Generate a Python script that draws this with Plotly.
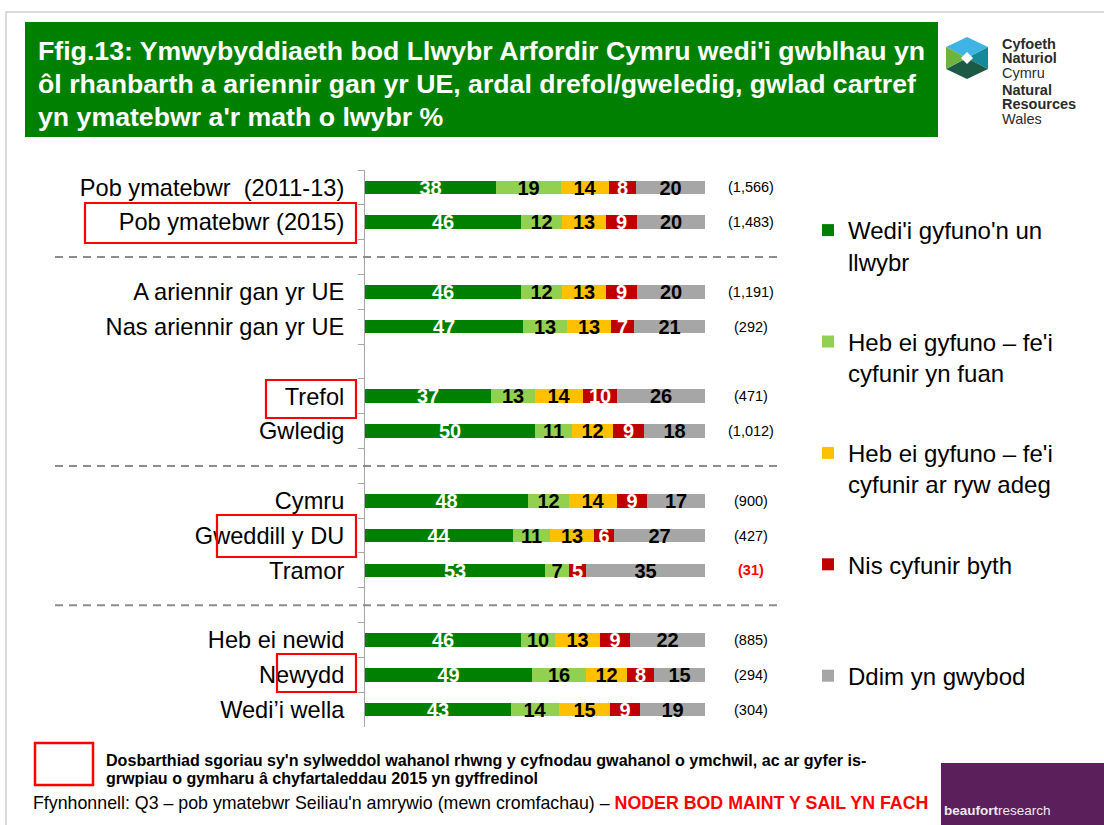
import plotly.graph_objects as go

# ---------------- data ----------------
categories = ["Pob ymatebwr  (2011-13)", "Pob ymatebwr (2015)",
              "A ariennir gan yr UE", "Nas ariennir gan yr UE",
              "Trefol", "Gwledig",
              "Cymru", "Gweddill y DU", "Tramor",
              "Heb ei newid", "Newydd", "Wedi\u2019i wella"]
wedi_gyfuno = [38, 46, 46, 47, 37, 50, 48, 44, 53, 46, 49, 43]
heb_fuan = [19, 12, 12, 13, 13, 11, 12, 11, 7, 10, 16, 14]
heb_adeg = [14, 13, 13, 13, 14, 12, 14, 13, 0, 13, 12, 15]
nis_byth = [8, 9, 9, 7, 10, 9, 9, 6, 5, 9, 8, 9]
ddim_gwybod = [20, 20, 20, 21, 26, 18, 17, 27, 35, 22, 15, 19]
bases = ["(1,566)", "(1,483)", "(1,191)", "(292)", "(471)", "(1,012)",
         "(900)", "(427)", "(31)", "(885)", "(294)", "(304)"]
small_base = ["(31)"]
series_names = ["Wedi'i gyfuno'n un<br>llwybr",
                "Heb ei gyfuno \u2013 fe'i<br>cyfunir yn fuan",
                "Heb ei gyfuno \u2013 fe'i<br>cyfunir ar ryw adeg",
                "Nis cyfunir byth<br> ",
                "Ddim yn gwybod<br> "]
highlighted = ["Pob ymatebwr (2015)", "Trefol", "Gweddill y DU", "Newydd"]

# ---------------- layout helpers ----------------
W, H = 1104, 825
FONT = "Liberation Sans, Arial, sans-serif"


def px(x):
    return x / W


def py(y):
    return 1 - y / H


# category order with blank spacer rows between groups
spacers = {1: True, 3: False, 5: True, 8: True}
order = []
dashed_rows = []
for i, c in enumerate(categories):
    order.append(c)
    if i in spacers:
        blank = " " * (len(order))
        order.append(blank)
        if spacers[i]:
            dashed_rows.append(blank)

colors = ["#008000", "#92D050", "#FFC000", "#C00000", "#A6A6A6"]
text_colors = ["white", "black", "black", "white", "black"]
series = [wedi_gyfuno, heb_fuan, heb_adeg, nis_byth, ddim_gwybod]

fig = go.Figure()
for k, (vals, name) in enumerate(zip(series, series_names)):
    fig.add_trace(go.Bar(
        y=categories, x=vals, orientation="h", name=name,
        legendgroup=f"g{k}",
        marker=dict(color=colors[k], line=dict(width=0)),
        width=0.39,
        text=[str(v) if v > 0 else "" for v in vals],
        textposition="inside", insidetextanchor="middle", textangle=0,
        constraintext="none", cliponaxis=False,
        textfont=dict(family=FONT, size=20, color=text_colors[k], weight="bold"),
        hoverinfo="skip",
    ))

shapes = []
annotations = []

# slide border
shapes.append(dict(type="rect", xref="paper", yref="paper",
                   x0=px(6), x1=px(1110), y0=py(832), y1=py(12),
                   line=dict(color="#D0D0D0", width=1.5), layer="below"))
# title box
shapes.append(dict(type="rect", xref="paper", yref="paper",
                   x0=px(25), x1=px(938), y0=py(137), y1=py(22),
                   fillcolor="#008000", line=dict(width=0)))
title_lines = ["Ffig.13: Ymwybyddiaeth bod Llwybr Arfordir Cymru wedi'i gwblhau yn",
               "\u00f4l rhanbarth a ariennir gan yr UE, ardal drefol/gweledig, gwlad cartref",
               "yn ymatebwr a'r math o lwybr %"]
for i, t in enumerate(title_lines):
    annotations.append(dict(xref="paper", yref="paper", x=px(36), y=py(51 + 33 * i),
                            xanchor="left", yanchor="middle", showarrow=False,
                            text="<b>" + t + "</b>",
                            font=dict(family=FONT, size=26.7, color="white")))

# dashed separators
for r in dashed_rows:
    shapes.append(dict(type="line", xref="paper", yref="y",
                       x0=px(55), x1=px(782), y0=r, y1=r,
                       line=dict(color="#8C8C8C", width=2, dash="8px,6px")))

# highlight boxes around labels
box_px = {"Pob ymatebwr (2015)": (85, 203, 243), "Trefol": (266, 380, 418),
          "Gweddill y DU": (217, 515, 557), "Newydd": (277, 654, 692)}
for c in highlighted:
    x0, y0, y1 = box_px[c]
    shapes.append(dict(type="rect", xref="paper", yref="paper",
                       x0=px(x0), x1=px(356), y0=py(y1), y1=py(y0),
                       line=dict(color="#FF0000", width=2.2)))

# base sizes
for c, b in zip(categories, bases):
    red = b in small_base
    annotations.append(dict(xref="paper", yref="y", x=px(751), y=c,
                            xanchor="center", yanchor="middle", showarrow=False,
                            text=("<b>" + b + "</b>") if red else b,
                            font=dict(family=FONT, size=14.5,
                                      color="#FF0000" if red else "black")))

# footnote
shapes.append(dict(type="rect", xref="paper", yref="paper",
                   x0=px(35), x1=px(93), y0=py(785), y1=py(743),
                   line=dict(color="#FF0000", width=2.5)))
foot_lines = ["Dosbarthiad sgoriau sy'n sylweddol wahanol rhwng y cyfnodau gwahanol o ymchwil, ac ar gyfer is-",
              "grwpiau o gymharu \u00e2 chyfartaleddau 2015 yn gyffredinol"]
for i, t in enumerate(foot_lines):
    annotations.append(dict(xref="paper", yref="paper", x=px(104), y=py(760 + 18 * i),
                            xanchor="left", yanchor="middle", showarrow=False,
                            text="<b>" + t + "</b>",
                            font=dict(family=FONT, size=16.1, color="black")))
annotations.append(dict(xref="paper", yref="paper", x=px(31), y=py(803),
                        xanchor="left", yanchor="middle", showarrow=False,
                        text="Ffynhonnell: Q3 \u2013 pob ymatebwr Seiliau'n amrywio (mewn cromfachau) \u2013 "
                             "<span style='color:#FF0000'><b>NODER BOD MAINT Y SAIL YN FACH</b></span>",
                        font=dict(family=FONT, size=17.8, color="black")))

# NRW logo
hexpts = {"T": (967, 37), "UR": (988, 47), "LR": (988, 69), "B": (967, 79),
          "LL": (946, 69), "UL": (946, 47), "C": (967, 58)}


def path(keys):
    pts = [hexpts[k] if isinstance(k, str) else k for k in keys]
    return "M " + " L ".join(f"{px(x)},{py(y)}" for x, y in pts) + " Z"


for keys, col in [(["UL", "T", "UR", "C"], "#3FB4E4"),
                  (["UR", "LR", "C"], "#14899A"),
                  (["LR", "B", "LL", "C"], "#1D5A45"),
                  (["LL", "UL", "C"], "#6DB340"),
                  ([(967, 52), (973, 58), (967, 64), (961, 58)], "white")]:
    shapes.append(dict(type="path", xref="paper", yref="paper", path=path(keys),
                       fillcolor=col, line=dict(width=0)))
logo_lines = [("Cyfoeth", True, 44), ("Naturiol", True, 58.5), ("Cymru", False, 73),
              ("Natural", True, 90.5), ("Resources", True, 105), ("Wales", False, 119.5)]
for t, b, yy in logo_lines:
    annotations.append(dict(xref="paper", yref="paper", x=px(1000), y=py(yy),
                            xanchor="left", yanchor="middle", showarrow=False,
                            height=14.5,
                            text=("<b>" + t + "</b>") if b else t,
                            font=dict(family=FONT, size=14.5, color="#2B2B2B")))

# beaufort research logo
shapes.append(dict(type="rect", xref="paper", yref="paper",
                   x0=px(941), x1=px(1104), y0=py(825), y1=py(763),
                   fillcolor="#5B1F5B", line=dict(width=0)))
annotations.append(dict(xref="paper", yref="paper", x=px(942), y=py(810),
                        xanchor="left", yanchor="middle", showarrow=False,
                        text="<b>beaufort</b>research",
                        font=dict(family=FONT, size=13.5, color="#F0E8F0")))

fig.update_layout(
    width=W, height=H, margin=dict(l=0, r=0, t=0, b=0),
    paper_bgcolor="white", plot_bgcolor="white",
    barmode="stack", barnorm="percent", bargap=0,
    uniformtext=dict(minsize=20, mode="show"),
    font=dict(family=FONT, color="black"),
    xaxis=dict(domain=[px(365), px(705.2)], range=[0, 100.06], visible=False,
               fixedrange=True),
    yaxis=dict(domain=[py(727), py(170)], type="category",
               categoryorder="array", categoryarray=order,
               range=[len(order) - 0.5, -0.5],
               tickson="boundaries", ticks="outside", ticklen=6,
               tickcolor="#A6A6A6", showline=True, linecolor="#A6A6A6",
               linewidth=1, showgrid=False, zeroline=False,
               ticklabelstandoff=15,
               tickfont=dict(family=FONT, size=23.6, color="black"),
               fixedrange=True),
    legend=dict(x=px(808), y=py(208), xanchor="left", yanchor="top",
                traceorder="grouped", tracegroupgap=46, valign="top",
                itemwidth=30, font=dict(family=FONT, size=24, color="black"),
                bgcolor="rgba(0,0,0,0)"),
    shapes=shapes, annotations=annotations,
)

fig.write_html("out.html", config={"displayModeBar": False},
               post_script="document.body.style.margin='0';document.body.style.overflow='hidden';")
